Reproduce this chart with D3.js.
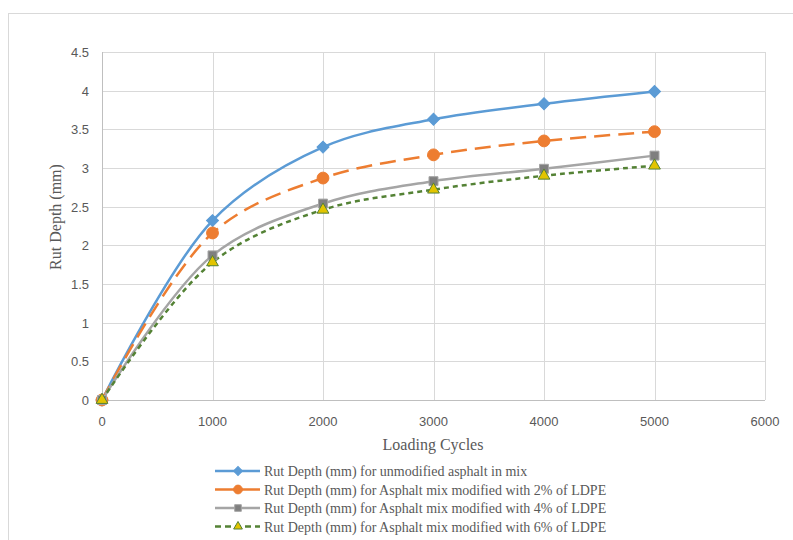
<!DOCTYPE html>
<html>
<head>
<meta charset="utf-8">
<script src="https://cdn.jsdelivr.net/npm/d3@7"></script>
<style>
body { margin: 0; background: #fff; }
</style>
</head>
<body>
<script>
//Chart data
let cycles = [0, 1000, 2000, 3000, 4000, 5000];
let unmodified = [0, 2.32, 3.27, 3.63, 3.83, 3.99];
let ldpe2 = [0, 2.16, 2.87, 3.17, 3.35, 3.47];
let ldpe4 = [0, 1.87, 2.54, 2.83, 2.99, 3.16];
let ldpe6 = [0, 1.78, 2.46, 2.72, 2.90, 3.03];
let xTicks = [0, 1000, 2000, 3000, 4000, 5000, 6000];
let yTicks = [0, 0.5, 1, 1.5, 2, 2.5, 3, 3.5, 4, 4.5];
let seriesNames = [
	"Rut Depth (mm) for unmodified asphalt in mix",
	"Rut Depth (mm) for Asphalt mix modified with 2% of LDPE",
	"Rut Depth (mm) for Asphalt mix modified with 4% of LDPE",
	"Rut Depth (mm) for Asphalt mix modified with 6% of LDPE"
];

window.onload = function(){
	let w = 793, h = 540;

	let svg = d3.select("body")
		.append("svg")
		.attr("width", w)
		.attr("height", h);

	//Chart area border
	svg.append("rect")
		.attr("x", 8.5)
		.attr("y", 13.5)
		.attr("width", 800)
		.attr("height", 540)
		.style("fill", "none")
		.style("stroke", "#D9D9D9");

	let x = d3.scaleLinear()
		.domain([0, 6000])
		.range([102, 765]);

	let y = d3.scaleLinear()
		.domain([0, 4.5])
		.range([400, 52]);

	//Gridlines
	svg.append("g").selectAll("line.hgrid")
		.data(yTicks.slice(1))
		.enter()
		.append("line")
		.attr("x1", x(0))
		.attr("x2", x(6000))
		.attr("y1", d => Math.round(y(d)) + 0.5)
		.attr("y2", d => Math.round(y(d)) + 0.5)
		.style("stroke", "#D9D9D9");

	svg.append("g").selectAll("line.vgrid")
		.data(xTicks.slice(1))
		.enter()
		.append("line")
		.attr("x1", d => Math.round(x(d)) + 0.5)
		.attr("x2", d => Math.round(x(d)) + 0.5)
		.attr("y1", y(0))
		.attr("y2", y(4.5))
		.style("stroke", "#D9D9D9");

	//Axis lines
	svg.append("line")
		.attr("x1", x(0)).attr("x2", x(6000))
		.attr("y1", Math.round(y(0)) + 0.5).attr("y2", Math.round(y(0)) + 0.5)
		.style("stroke", "#BFBFBF");
	svg.append("line")
		.attr("x1", Math.round(x(0)) + 0.5).attr("x2", Math.round(x(0)) + 0.5)
		.attr("y1", y(0)).attr("y2", y(4.5))
		.style("stroke", "#BFBFBF");

	//Tick labels
	svg.append("g").selectAll("text")
		.data(yTicks)
		.enter()
		.append("text")
		.attr("x", 89)
		.attr("y", d => y(d) + 5)
		.attr("text-anchor", "end")
		.style("font-family", "Liberation Sans, Arial, sans-serif")
		.style("font-size", "13px")
		.style("fill", "#595959")
		.text(d => d);

	svg.append("g").selectAll("text")
		.data(xTicks)
		.enter()
		.append("text")
		.attr("x", d => x(d))
		.attr("y", 426)
		.attr("text-anchor", "middle")
		.style("font-family", "Liberation Sans, Arial, sans-serif")
		.style("font-size", "13px")
		.style("fill", "#595959")
		.text(d => d);

	//Axis titles
	svg.append("text")
		.attr("x", 433)
		.attr("y", 450)
		.attr("text-anchor", "middle")
		.style("font-family", "Liberation Serif, Times New Roman, serif")
		.style("font-size", "16px")
		.style("fill", "#595959")
		.text("Loading Cycles");

	svg.append("text")
		.attr("transform", "translate(61, 217) rotate(-90)")
		.attr("text-anchor", "middle")
		.style("font-family", "Liberation Serif, Times New Roman, serif")
		.style("font-size", "16px")
		.style("fill", "#595959")
		.text("Rut Depth (mm)");

	//Series definitions
	let series = [
		{name: seriesNames[0], values: unmodified, color: "#5B9BD5", dash: null, marker: "diamond", fill: "#5B9BD5", mstroke: "#5B9BD5"},
		{name: seriesNames[1], values: ldpe2, color: "#ED7D31", dash: "16,8", marker: "circle", fill: "#ED7D31", mstroke: "#ED7D31"},
		{name: seriesNames[2], values: ldpe4, color: "#A5A5A5", dash: null, marker: "square", fill: "#7F7F7F", mstroke: "#A5A5A5"},
		{name: seriesNames[3], values: ldpe6, color: "#548235", dash: "5,4", marker: "triangle", fill: "#E2C400", mstroke: "#548235"}
	];

	//Diamond is drawn as a square turned 45 degrees
	let symbolType = {
		diamond: d3.symbolSquare,
		circle: d3.symbolCircle,
		square: d3.symbolSquare,
		triangle: d3.symbolTriangle
	};
	let symbolSize = {diamond: 72, circle: 110, square: 80, triangle: 60};
	let symbolTurn = {diamond: 45, circle: 0, square: 0, triangle: 0};

	let line = d3.line()
		.x((d, i) => x(cycles[i]))
		.y(d => y(d))
		.curve(d3.curveCatmullRom.alpha(0.5));

	series.forEach(function(s){
		svg.append("path")
			.datum(s.values)
			.attr("d", line)
			.style("fill", "none")
			.style("stroke", s.color)
			.style("stroke-width", 2.5)
			.style("stroke-dasharray", s.dash);
	});

	series.forEach(function(s){
		svg.append("g").selectAll("path")
			.data(s.values)
			.enter()
			.append("path")
			.attr("transform", (d, i) => "translate(" + x(cycles[i]) + "," + y(d) + ") rotate(" + symbolTurn[s.marker] + ")")
			.attr("d", d3.symbol().type(symbolType[s.marker]).size(symbolSize[s.marker]))
			.style("fill", s.fill)
			.style("stroke", s.mstroke)
			.style("stroke-width", 1);
	});

	//Legend
	let legend = svg.append("g").selectAll("g")
		.data(series)
		.enter()
		.append("g")
		.attr("transform", (d, i) => "translate(0," + (471 + i * 18.5) + ")");

	legend.append("line")
		.attr("x1", 215)
		.attr("x2", 260)
		.style("stroke", d => d.color)
		.style("stroke-width", 2.5)
		.style("stroke-dasharray", d => d.dash ? (d.marker == "circle" ? "20,5" : "6,4") : null);

	legend.append("path")
		.attr("transform", d => "translate(238,0) rotate(" + symbolTurn[d.marker] + ")")
		.attr("d", d => d3.symbol().type(symbolType[d.marker]).size(symbolSize[d.marker] * 0.55)())
		.style("fill", d => d.fill)
		.style("stroke", d => d.mstroke);

	legend.append("text")
		.attr("x", 264)
		.attr("y", 5)
		.style("font-family", "Liberation Serif, Times New Roman, serif")
		.style("font-size", "14px")
		.style("fill", "#595959")
		.text(d => d.name);
};
</script>
</body>
</html>
